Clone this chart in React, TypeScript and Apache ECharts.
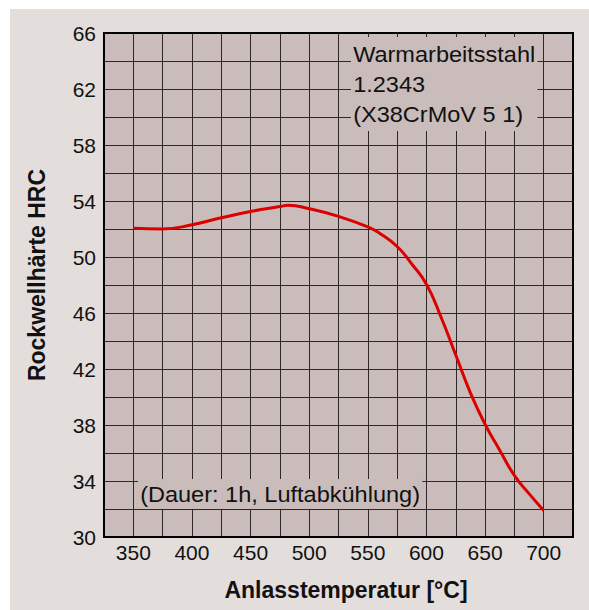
import React, { useEffect, useRef } from "react";
import * as echarts from "echarts";

const temperatures = [350, 375, 400, 425, 450, 475, 482, 500, 525, 550, 560, 575, 587.5, 600, 612.5, 625, 637.5, 650, 662.5, 675, 687.5, 700];
const hardness = [52.05, 52.0, 52.3, 52.8, 53.25, 53.6, 53.7, 53.45, 52.9, 52.15, 51.7, 50.75, 49.5, 48.05, 45.7, 43.0, 40.3, 38.05, 36.2, 34.4, 33.1, 31.9];
const xTickLabels = [350, 400, 450, 500, 550, 600, 650, 700];
const yTickLabels = [30, 34, 38, 42, 46, 50, 54, 58, 62, 66];
const titleLines = ["Warmarbeitsstahl", "1.2343", "(X38CrMoV 5 1)"];
const noteText = "(Dauer: 1h, Luftabkühlung)";
const xName = "Anlasstemperatur [°C]";
const yName = "Rockwellhärte HRC";

const FONT = "'Liberation Sans', Arial, Helvetica, sans-serif";
const PLOT_BG = "#c9bcba";
const OUTER_BG = "#e3dedc";
const GRID_LINE = "#2e2727";

export default function App() {
  const ref = useRef<HTMLDivElement>(null);
  useEffect(() => {
    if (!ref.current) return;
    const chart = echarts.init(ref.current, null, { renderer: "svg" });
    chart.setOption({
      animation: false,
      backgroundColor: OUTER_BG,
      grid: {
        left: 94,
        top: 24,
        width: 469,
        height: 504,
        show: true,
        backgroundColor: PLOT_BG,
        borderColor: "#000",
        borderWidth: 2,
      },
      xAxis: {
        type: "value",
        min: 325,
        max: 725,
        interval: 25,
        name: xName,
        nameLocation: "middle",
        nameGap: 41,
        nameTextStyle: {
          fontFamily: FONT,
          fontSize: 23,
          fontWeight: "bold",
          color: "#111",
          padding: [0, 0, 0, 15],
        },
        axisLine: { show: true, lineStyle: { color: "#000", width: 2 } },
        axisTick: { show: false },
        axisLabel: {
          margin: 5,
          fontFamily: FONT,
          fontSize: 21,
          color: "#111",
          formatter: (v: number) => (xTickLabels.includes(v) ? String(v) : ""),
        },
        splitLine: {
          show: true,
          showMinLine: false,
          showMaxLine: false,
          lineStyle: { color: GRID_LINE, width: 1 },
        },
      },
      yAxis: {
        type: "value",
        min: 30,
        max: 66,
        interval: 2,
        name: yName,
        nameLocation: "middle",
        nameGap: 56,
        nameRotate: 90,
        nameTextStyle: {
          fontFamily: FONT,
          fontSize: 23,
          fontWeight: "bold",
          color: "#111",
          padding: [0, 0, 0, 20],
        },
        axisLine: { show: true, lineStyle: { color: "#000", width: 2 } },
        axisTick: { show: false },
        axisLabel: {
          margin: 8,
          fontFamily: FONT,
          fontSize: 21,
          color: "#111",
          formatter: (v: number) => (yTickLabels.includes(v) ? String(v) : ""),
        },
        splitLine: {
          show: true,
          showMinLine: false,
          showMaxLine: false,
          lineStyle: { color: GRID_LINE, width: 1 },
        },
      },
      graphic: [
        {
          type: "text",
          x: 341,
          y: 28,
          z: 10,
          scaleX: 1.07,
          style: {
            text: titleLines.join("\n"),
            fontFamily: FONT,
            fontSize: 22,
            lineHeight: 30,
            fill: "#111",
            backgroundColor: PLOT_BG,
            padding: [2, 2, 2, 2],
          },
        },
        {
          type: "text",
          x: 128,
          y: 470,
          z: 10,
          scaleX: 1.07,
          style: {
            text: noteText,
            fontFamily: FONT,
            fontSize: 22,
            lineHeight: 28,
            fill: "#111",
            backgroundColor: PLOT_BG,
            padding: [1, 2, 1, 2],
          },
        },
      ],
      series: [
        {
          type: "line",
          data: temperatures.map((t, i) => [t, hardness[i]]),
          smooth: 0.5,
          showSymbol: false,
          lineStyle: { color: "#dd0000", width: 3 },
          z: 5,
        },
      ],
    });
    return () => chart.dispose();
  }, []);
  return (
    <div
      ref={ref}
      style={{ position: "absolute", left: 10, top: 9, width: 579, height: 601 }}
    />
  );
}
